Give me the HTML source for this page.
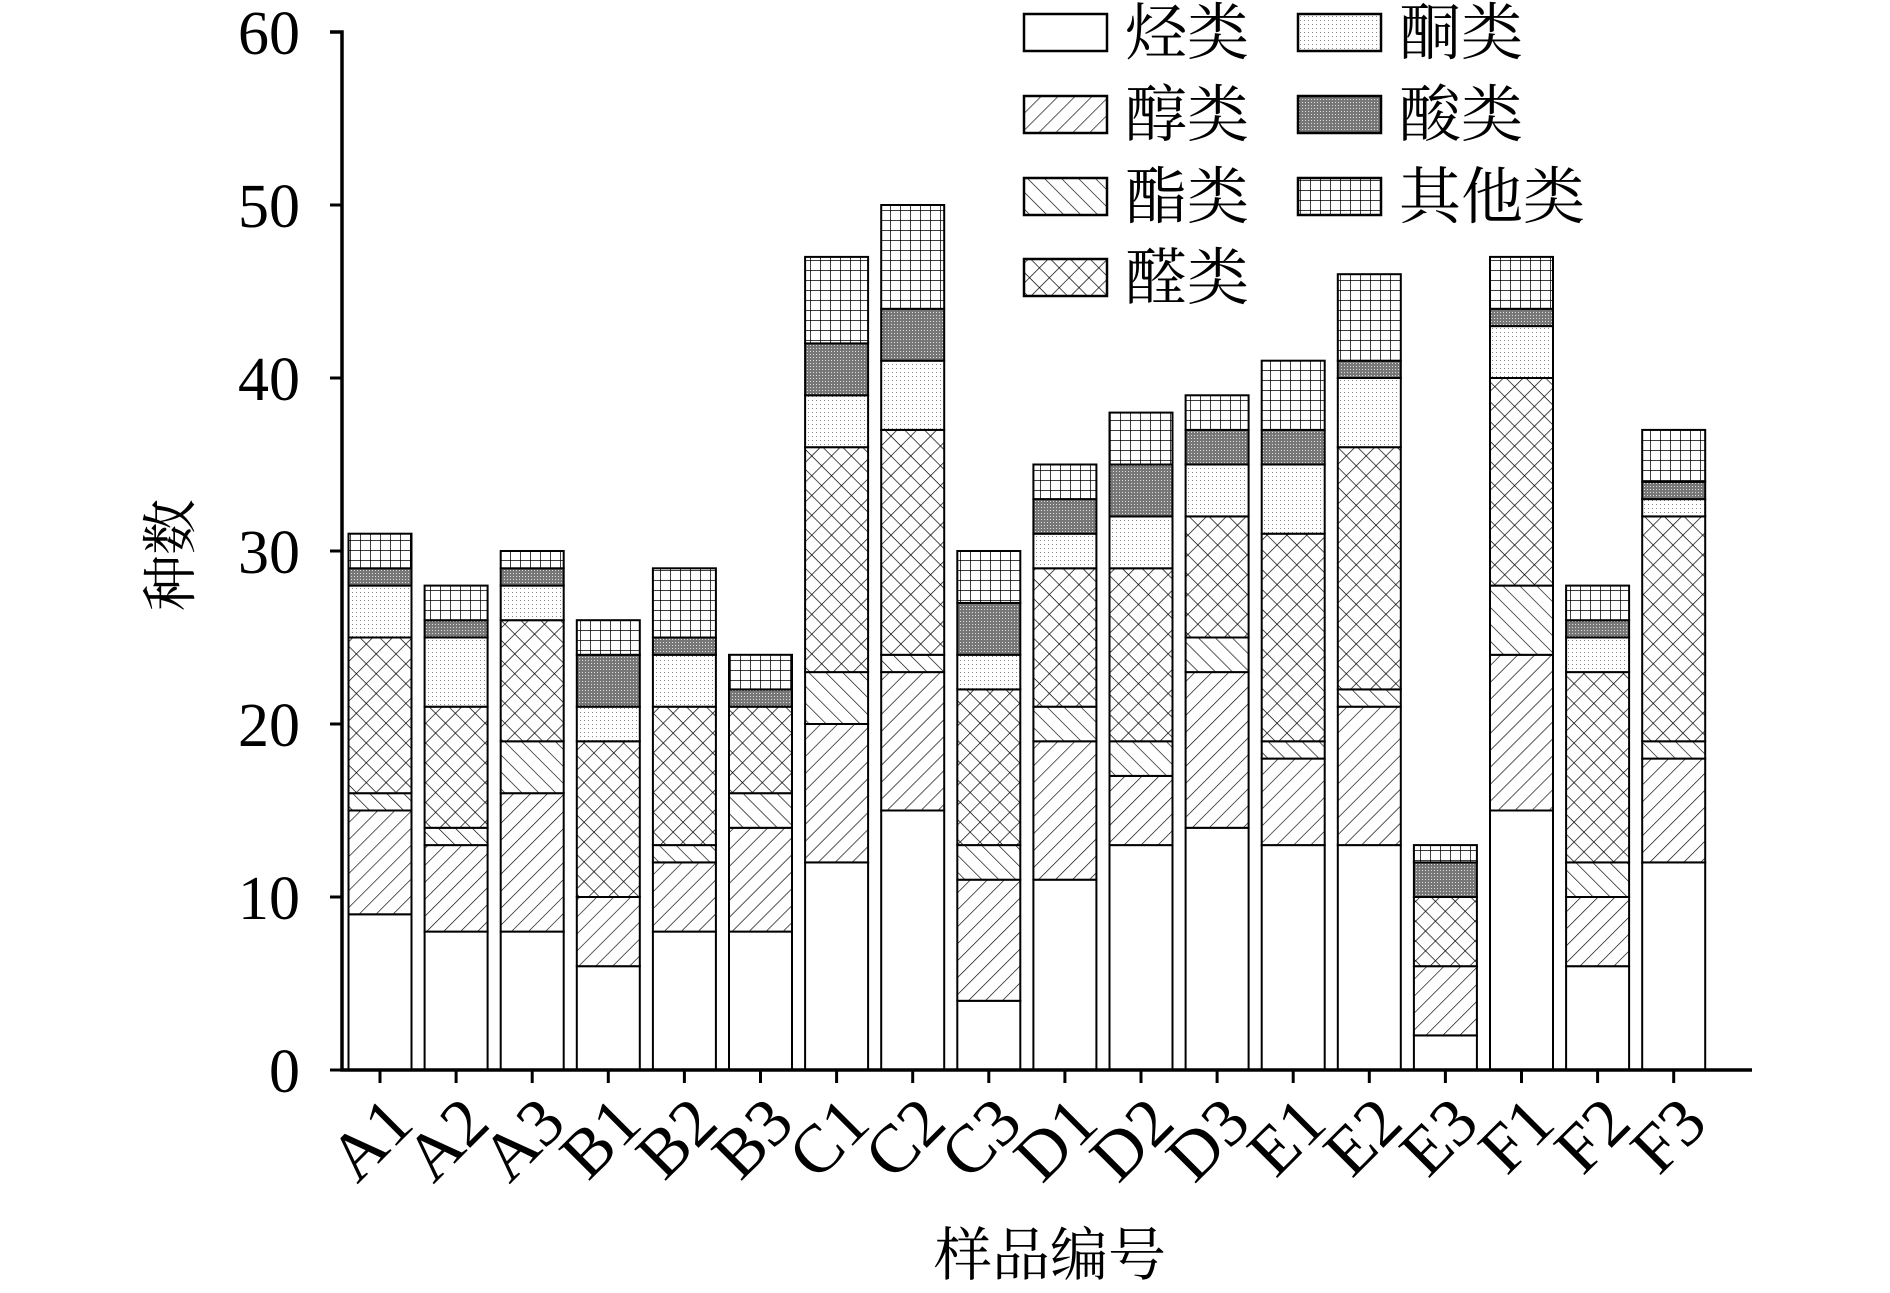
<!DOCTYPE html>
<html><head><meta charset="utf-8"><style>
html,body{margin:0;padding:0;background:#fff;}
svg{display:block;font-family:"Liberation Serif","Noto Serif CJK SC",serif;}
</style></head><body>
<svg id="chart" width="1890" height="1293" viewBox="0 0 1890 1293" xmlns="http://www.w3.org/2000/svg">
<defs>
<pattern id="p0" width="10" height="10" patternUnits="userSpaceOnUse"><rect width="10" height="10" fill="#fff"/></pattern>
<pattern id="p1" width="12" height="12" patternUnits="userSpaceOnUse" patternTransform="rotate(45)"><rect width="12" height="12" fill="#fff"/><line x1="0" y1="0" x2="0" y2="12" stroke="#000" stroke-width="1.3"/></pattern>
<pattern id="p2" width="12" height="12" patternUnits="userSpaceOnUse" patternTransform="rotate(-45)"><rect width="12" height="12" fill="#fff"/><line x1="0" y1="0" x2="0" y2="12" stroke="#000" stroke-width="1.3"/></pattern>
<pattern id="p3" width="14" height="14" patternUnits="userSpaceOnUse" patternTransform="rotate(45)"><rect width="14" height="14" fill="#fff"/><line x1="0" y1="0" x2="0" y2="14" stroke="#000" stroke-width="1.4"/><line x1="0" y1="0" x2="14" y2="0" stroke="#000" stroke-width="1.4"/></pattern>
<pattern id="p4" width="4" height="4" patternUnits="userSpaceOnUse"><rect width="4" height="4" fill="#fff"/><rect width="1" height="1" fill="#888"/></pattern>
<pattern id="p5" width="3" height="3" patternUnits="userSpaceOnUse"><rect width="3" height="3" fill="#777"/><rect width="1" height="1" fill="#ddd"/></pattern>
<pattern id="p6" width="10" height="10" patternUnits="userSpaceOnUse"><rect width="10" height="10" fill="#fff"/><line x1="0" y1="0" x2="10" y2="0" stroke="#000" stroke-width="1.5"/><line x1="0" y1="0" x2="0" y2="10" stroke="#000" stroke-width="1.5"/></pattern>
</defs>
<g id="bars"></g>
<g id="axes"></g>
<g id="legend"></g>
</svg>
<script>
const categories = ["A1","A2","A3","B1","B2","B3","C1","C2","C3","D1","D2","D3","E1","E2","E3","F1","F2","F3"];
const seriesNames = ["烃类","醇类","酯类","醛类","酮类","酸类","其他类"];
const hydrocarbons = [9,8,8,6,8,8,12,15,4,11,13,14,13,13,2,15,6,12];
const alcohols = [6,5,8,4,4,6,8,8,7,8,4,9,5,8,4,9,4,6];
const esters = [1,1,3,0,1,2,3,1,2,2,2,2,1,1,0,4,2,1];
const aldehydes = [9,7,7,9,8,5,13,13,9,8,10,7,12,14,4,12,11,13];
const ketones = [3,4,2,2,3,0,3,4,2,2,3,3,4,4,0,3,2,1];
const acids = [1,1,1,3,1,1,3,3,3,2,3,2,2,1,2,1,1,1];
const others = [2,2,1,2,4,2,5,6,3,2,3,2,4,5,1,3,2,3];
const yTicks = [0,10,20,30,40,50,60];
const series = [hydrocarbons,alcohols,esters,aldehydes,ketones,acids,others];

const NS="http://www.w3.org/2000/svg";
const x0=342, y0=1070, unitY=(1070-32)/60, first=380, step=76.1, bw=63;
const yS=v=>y0-v*unitY;
const xS=i=>first+i*step;
function mk(t,a,p){const e=document.createElementNS(NS,t);for(const k in a)e.setAttribute(k,a[k]);p.appendChild(e);return e;}
const gb=document.getElementById('bars'), ga=document.getElementById('axes'), gl=document.getElementById('legend');
categories.forEach((c,i)=>{
  let cum=0;
  series.forEach((s,k)=>{
    const v=s[i]; if(v<=0){return;}
    const r=mk('rect',{x:xS(i)-bw/2,y:yS(cum+v),width:bw,height:v*unitY,fill:'url(#p'+k+')',stroke:'#000','stroke-width':2},gb);
    
    
    cum+=v;
  });
  const t=mk('line',{x1:xS(i),y1:y0,x2:xS(i),y2:y0+13,stroke:'#000','stroke-width':3},ga);
  
  
  const lb=mk('text',{x:0,y:0,'font-size':68,'text-anchor':'end',transform:`translate(${xS(i)+36},${y0+56}) rotate(-45)`},ga);
  lb.textContent=c;
  
  
});
const ax=mk('path',{d:`M${x0-12},${yS(60)} H${x0} V${y0} H1752`,fill:'none',stroke:'#000','stroke-width':3.5},ga);


yTicks.forEach(v=>{
  const t=mk('line',{x1:x0-12,y1:yS(v),x2:x0,y2:yS(v),stroke:'#000','stroke-width':3},ga);
  
  
  const l=mk('text',{x:300,y:yS(v)+22,'font-size':62,'text-anchor':'end'},ga);
  l.textContent=v;
  
  
});
const yt=mk('text',{x:0,y:0,'font-size':56,'text-anchor':'middle',transform:'translate(190,555) rotate(-90)'},ga);
yt.textContent='种数';


const xt=mk('text',{x:1050,y:1275,'font-size':58,'text-anchor':'middle'},ga);
xt.textContent='样品编号';


const legPos=[[1024,14],[1024,96],[1024,178],[1024,259],[1298,14],[1298,96],[1298,178]];
const legOrder=[0,1,2,3,4,5,6];
legOrder.forEach((k,j)=>{
  const [lx,ly]=legPos[j];
  const b=mk('rect',{x:lx,y:ly,width:83,height:37,fill:'url(#p'+k+')',stroke:'#000','stroke-width':2.5},gl);
  
  
  const t=mk('text',{x:lx+101,y:ly+40,'font-size':62},gl);
  t.textContent=seriesNames[k];
  
  
});
</script>
</body></html>
